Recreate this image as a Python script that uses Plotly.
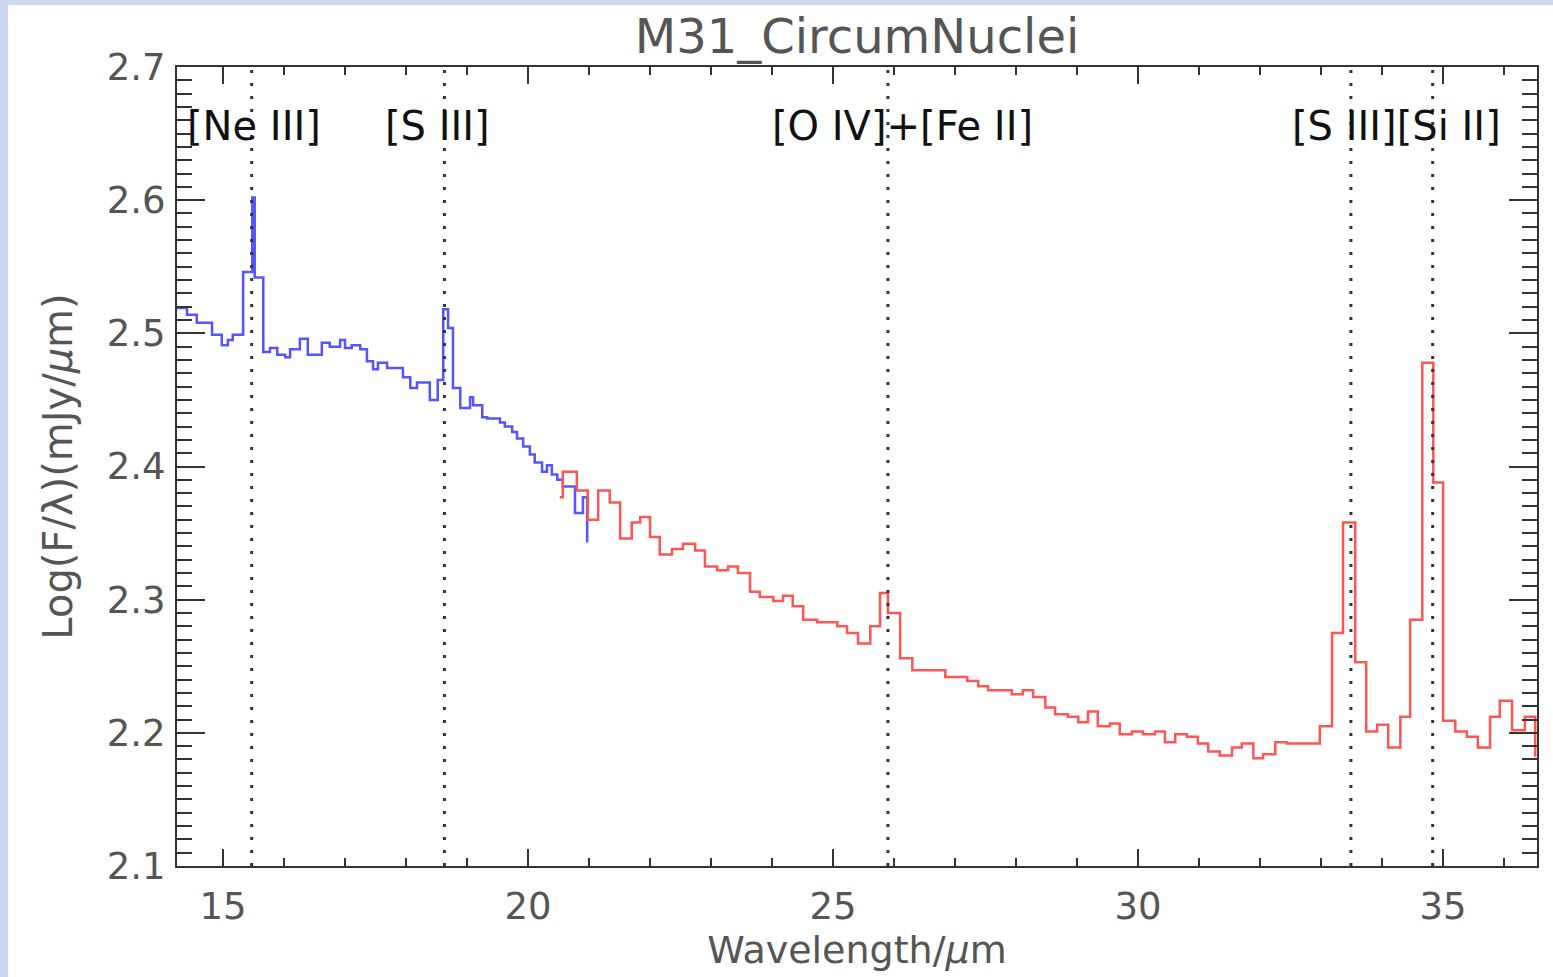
import plotly.graph_objects as go

# ---- data ----
blue_edges = [14.20, 14.41, 14.57, 14.82, 14.98, 15.08, 15.16, 15.33, 15.48, 15.52,
              15.66, 15.77, 15.89, 16.02, 16.10, 16.26, 16.39, 16.62, 16.75, 16.92,
              17.00, 17.11, 17.25, 17.36, 17.46, 17.54, 17.69, 17.95, 18.07, 18.18,
              18.39, 18.52, 18.61, 18.69, 18.77, 18.89, 19.05, 19.10, 19.25, 19.33,
              19.54, 19.62, 19.74, 19.82, 19.92, 20.03, 20.11, 20.23, 20.31, 20.39,
              20.48, 20.57, 20.77, 20.90]
blue_vals = [2.519, 2.514, 2.508, 2.499, 2.491, 2.495, 2.499, 2.546, 2.602, 2.542,
             2.486, 2.489, 2.484, 2.482, 2.488, 2.496, 2.484, 2.493, 2.490, 2.495,
             2.489, 2.491, 2.488, 2.479, 2.473, 2.478, 2.474, 2.467, 2.459, 2.463,
             2.450, 2.465, 2.518, 2.504, 2.459, 2.444, 2.452, 2.446, 2.437, 2.436,
             2.433, 2.430, 2.426, 2.421, 2.415, 2.409, 2.403, 2.396, 2.401, 2.394,
             2.390, 2.385, 2.365, 2.377]
blue_end_x = 20.97
blue_end_y = 2.343

red_edges = [20.52, 20.57, 20.80, 20.98, 21.15, 21.34, 21.51, 21.70, 21.84, 22.00,
             22.16, 22.36, 22.54, 22.74, 22.90, 23.10, 23.28, 23.44, 23.64, 23.80,
             24.02, 24.18, 24.34, 24.51, 24.74, 25.07, 25.23, 25.41, 25.61, 25.77,
             25.90, 26.10, 26.30, 26.84, 27.20, 27.38, 27.54, 27.93, 28.11, 28.28,
             28.48, 28.64, 28.85, 29.02, 29.18, 29.34, 29.54, 29.70, 29.90, 30.08,
             30.28, 30.44, 30.61, 30.80, 30.98, 31.15, 31.34, 31.54, 31.70, 31.89,
             32.05, 32.25, 32.44, 32.98, 33.18, 33.36, 33.56, 33.74, 33.92, 34.10,
             34.30, 34.46, 34.66, 34.84, 35.00, 35.20, 35.39, 35.57, 35.77, 35.93,
             36.13, 36.34]
red_vals = [2.377, 2.396, 2.382, 2.360, 2.382, 2.373, 2.346, 2.358, 2.362, 2.347,
            2.334, 2.338, 2.342, 2.337, 2.325, 2.322, 2.325, 2.320, 2.306, 2.302,
            2.299, 2.303, 2.295, 2.285, 2.283, 2.280, 2.275, 2.267, 2.280, 2.305,
            2.290, 2.256, 2.247, 2.242, 2.239, 2.235, 2.232, 2.229, 2.232, 2.227,
            2.219, 2.214, 2.212, 2.208, 2.216, 2.205, 2.207, 2.199, 2.201, 2.199,
            2.201, 2.193, 2.199, 2.197, 2.192, 2.186, 2.183, 2.189, 2.192, 2.181,
            2.184, 2.193, 2.192, 2.205, 2.275, 2.358, 2.253, 2.201, 2.206, 2.189,
            2.212, 2.285, 2.478, 2.388, 2.209, 2.201, 2.197, 2.189, 2.212, 2.224,
            2.202, 2.212]
red_end_x = 36.51
red_end_y = 2.182

line_positions = [15.47, 18.63, 25.90, 33.49, 34.83]
label_texts = ["[Ne III]", "[S III]", "[O IV]+[Fe II]", "[S III][Si II]"]
label_x = [14.38, 17.62, 23.97, 32.49]
label_y = 2.656

x_tickvals = [15, 20, 25, 30, 35]
y_tickvals = [2.1, 2.2, 2.3, 2.4, 2.5, 2.6, 2.7]

# ---- figure ----
W, H = 1553, 977
ML, MR, MT, MB = 177, 16, 67, 111
PW, PH = W - ML - MR, H - MT - MB

fig = go.Figure()

fig.add_trace(go.Scatter(
    x=blue_edges + [blue_end_x], y=blue_vals + [blue_end_y],
    mode="lines", line=dict(shape="hv", color="rgb(85,85,255)", width=2.5),
    showlegend=False, hoverinfo="skip"))
fig.add_trace(go.Scatter(
    x=red_edges + [red_end_x], y=red_vals + [red_end_y],
    mode="lines", line=dict(shape="hv", color="rgb(255,85,85)", width=2.5),
    showlegend=False, hoverinfo="skip"))

for xv in line_positions:
    fig.add_shape(type="line", xref="x", yref="paper", x0=xv, x1=xv, y0=0, y1=1,
                  line=dict(color="#333333", width=3, dash="3px,10px"), layer="above")

for t, xv in zip(label_texts, label_x):
    fig.add_annotation(x=xv, y=label_y, xref="x", yref="y", text=t, showarrow=False,
                       xanchor="left", yanchor="middle",
                       font=dict(family="DejaVu Sans", size=40, color="#111111"))

# light-blue page border strips (left and top)
def px_to_paper_x(px):
    return (px - ML) / PW

def py_to_paper_y(py):
    return (H - MB - py) / PH

band = "#cdd9f1"
fig.add_shape(type="rect", xref="paper", yref="paper",
              x0=px_to_paper_x(0), x1=px_to_paper_x(8),
              y0=py_to_paper_y(H), y1=py_to_paper_y(0),
              fillcolor=band, line=dict(width=0), layer="below")
fig.add_shape(type="rect", xref="paper", yref="paper",
              x0=px_to_paper_x(0), x1=px_to_paper_x(W),
              y0=py_to_paper_y(5), y1=py_to_paper_y(0),
              fillcolor=band, line=dict(width=0), layer="below")

axis_font = dict(family="DejaVu Sans", size=37, color="#555555")

fig.update_layout(
    width=W, height=H,
    margin=dict(l=ML, r=MR, t=MT, b=MB, pad=0, autoexpand=False),
    paper_bgcolor="white", plot_bgcolor="white",
    title=dict(text="M31_CircumNuclei", x=0.5, xref="paper", xanchor="center",
               y=1 - 36 / H, yref="container", yanchor="middle",
               font=dict(family="DejaVu Sans", size=48, color="#555555")),
    xaxis=dict(range=[14.246, 36.54], tickvals=x_tickvals, ticks="inside", ticklen=17,
               tickwidth=2, tickcolor="#333333", showline=True, linecolor="#333333",
               linewidth=2, mirror="ticks", showgrid=False, zeroline=False,
               tickfont=axis_font, ticklabelstandoff=7, automargin=False,
               minor=dict(dtick=1, ticks="inside", ticklen=8, tickwidth=2,
                          tickcolor="#333333", showgrid=False),
               title=dict(text="Wavelength/<i>µ</i>m", standoff=4,
                          font=dict(family="DejaVu Sans", size=38, color="#555555"))),
    yaxis=dict(range=[2.1, 2.7], tickvals=y_tickvals, ticktext=[f"{v:.1f}" for v in y_tickvals],
               ticks="inside", ticklen=28,
               tickwidth=2, tickcolor="#333333", showline=True, linecolor="#333333",
               linewidth=2, mirror="ticks", showgrid=False, zeroline=False,
               tickfont=axis_font, ticklabelstandoff=2, automargin=False,
               minor=dict(dtick=0.01, ticks="inside", ticklen=15, tickwidth=2,
                          tickcolor="#333333", showgrid=False),
               title=dict(text="Log(F/λ)(mJy/<i>µ</i>m)", standoff=22,
                          font=dict(family="DejaVu Sans", size=40, color="#555555"))),
)

fig.write_html("out.html")
